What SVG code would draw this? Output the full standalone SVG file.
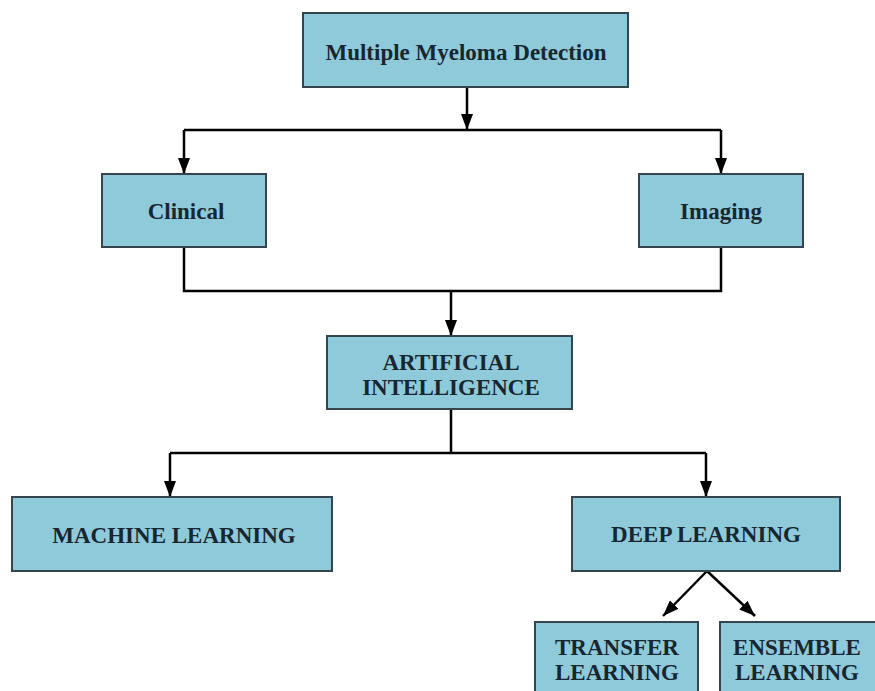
<svg xmlns="http://www.w3.org/2000/svg" width="875" height="691" viewBox="0 0 875 691">
<style>
.box{fill:#8fcadb;stroke:#34454c;stroke-width:2}
.lbl{font-family:"Liberation Serif","Times New Roman",serif;font-weight:bold;font-size:23px;fill:#17262f;text-anchor:middle;dominant-baseline:central}
.ln{fill:none;stroke:#000;stroke-width:2.5}
</style>
<defs>
<marker id="ah" viewBox="0 0 16 12" refX="16" refY="6" markerWidth="16" markerHeight="12" orient="auto" markerUnits="userSpaceOnUse">
<path d="M0,0 L16,6 L0,12 z" fill="#000"/>
</marker>
</defs>
<rect width="875" height="691" fill="#fff"/>
<g id="connectors">
<path class="ln" d="M467 87 V130" marker-end="url(#ah)"/>
<path class="ln" d="M184 130 H721"/>
<path class="ln" d="M184 130 V174" marker-end="url(#ah)"/>
<path class="ln" d="M721 130 V174" marker-end="url(#ah)"/>
<path class="ln" d="M184 247 V291 H721 V247"/>
<path class="ln" d="M451 291 V336" marker-end="url(#ah)"/>
<path class="ln" d="M451 409 V453"/>
<path class="ln" d="M170 453 H706"/>
<path class="ln" d="M170 453 V497" marker-end="url(#ah)"/>
<path class="ln" d="M706 453 V497" marker-end="url(#ah)"/>
<path class="ln" d="M707 571 L663 616" marker-end="url(#ah)"/>
<path class="ln" d="M707 571 L755 616" marker-end="url(#ah)"/>
</g>
<g id="n-top">
<rect class="box" x="303" y="13" width="325" height="74"/>
<text class="lbl" x="466" y="52">Multiple Myeloma Detection</text>
</g>
<g id="n-clinical">
<rect class="box" x="102" y="174" width="164" height="73"/>
<text class="lbl" x="186" y="211">Clinical</text>
</g>
<g id="n-imaging">
<rect class="box" x="639" y="174" width="164" height="73"/>
<text class="lbl" x="721" y="211">Imaging</text>
</g>
<g id="n-ai">
<rect class="box" x="327" y="336" width="245" height="73"/>
<text class="lbl" x="451" y="362">ARTIFICIAL</text>
<text class="lbl" x="451" y="387">INTELLIGENCE</text>
</g>
<g id="n-ml">
<rect class="box" x="12" y="497" width="320" height="74"/>
<text class="lbl" x="174" y="535">MACHINE LEARNING</text>
</g>
<g id="n-dl">
<rect class="box" x="572" y="497" width="268" height="74"/>
<text class="lbl" x="706" y="534">DEEP LEARNING</text>
</g>
<g id="n-transfer">
<rect class="box" x="535" y="622" width="163" height="80"/>
<text class="lbl" x="617" y="647">TRANSFER</text>
<text class="lbl" x="617" y="672">LEARNING</text>
</g>
<g id="n-ensemble">
<rect class="box" x="720" y="622" width="170" height="80"/>
<text class="lbl" x="797" y="647">ENSEMBLE</text>
<text class="lbl" x="797" y="672">LEARNING</text>
</g>
</svg>
